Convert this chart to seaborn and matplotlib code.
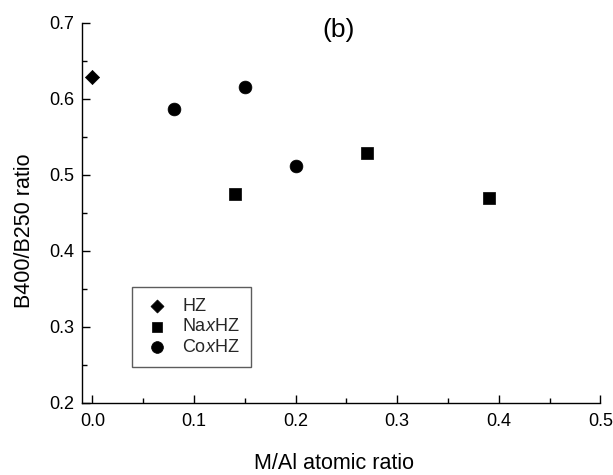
import matplotlib
matplotlib.use("Agg")
import matplotlib.pyplot as plt
import seaborn as sns
import pandas as pd
from matplotlib.ticker import MultipleLocator

sns.set_theme(style="ticks")
plt.rcParams['font.family'] = ['Liberation Sans', 'DejaVu Sans']
plt.rcParams['mathtext.fontset'] = 'custom'
plt.rcParams['mathtext.rm'] = 'Liberation Sans'
plt.rcParams['mathtext.it'] = 'Liberation Sans:italic'

hz_x = [0.0]
hz_y = [0.628]
na_x = [0.14, 0.27, 0.39]
na_y = [0.474, 0.528, 0.469]
co_x = [0.08, 0.15, 0.20]
co_y = [0.587, 0.615, 0.511]

series = [
    ("HZ", hz_x, hz_y, "D", 52),
    ("Na$x$HZ", na_x, na_y, "s", 64),
    ("Co$x$HZ", co_x, co_y, "o", 85),
]

fig = plt.figure(figsize=(6.13, 4.75), dpi=100)
x0, x1 = 82.3 / 613, 600.4 / 613
y0, y1 = 1 - 402.7 / 475, 1 - 22.7 / 475
ax = fig.add_axes([x0, y0, x1 - x0, y1 - y0])

for label, xs, ys, mk, s in series:
    df = pd.DataFrame({"x": xs, "y": ys})
    sns.scatterplot(data=df, x="x", y="y", marker=mk, s=s, color="black",
                    edgecolor="black", linewidth=0.5, ax=ax, label=label)

ax.set_xlim(-0.0099, 0.5)
ax.set_ylim(0.2, 0.7)
ax.xaxis.set_minor_locator(MultipleLocator(0.05))
ax.yaxis.set_minor_locator(MultipleLocator(0.05))
ax.set_xticks([0.0, 0.1, 0.2, 0.3, 0.4, 0.5])
ax.set_xticklabels(["0.0", "0.1", "0.2", "0.3", "0.4", "0.5"])
ax.set_yticks([0.2, 0.3, 0.4, 0.5, 0.6, 0.7])
ax.set_yticklabels(["0.2", "0.3", "0.4", "0.5", "0.6", "0.7"])
ax.tick_params(which="major", direction="in", length=5.5, width=1, labelsize=13,
               color="black", labelcolor="black")
ax.tick_params(axis="y", which="major", pad=6)
ax.tick_params(axis="x", which="major", pad=7.2)
ax.tick_params(which="minor", direction="in", length=3.6, width=1, color="black")
for side in ["top", "right"]:
    ax.spines[side].set_visible(False)
for side in ["left", "bottom"]:
    ax.spines[side].set_color("black")
    ax.spines[side].set_linewidth(1)

ax.set_xlabel("M/Al atomic ratio", fontsize=15.5, color="black")
ax.set_ylabel("B400/B250 ratio", fontsize=15.5, color="black")
ax.xaxis.set_label_coords(0.486, -0.132)
ax.yaxis.set_label_coords(-0.091, 0.452)
ax.text(0.242, 0.690, "(b)", fontsize=19, ha="center", va="center", color="black")

leg = ax.legend(loc="upper left", bbox_to_anchor=(0.0954, 0.305), frameon=True,
                fancybox=False, edgecolor="#333333", fontsize=13, handletextpad=0.6,
                borderpad=0.6, labelspacing=0.2, handlelength=1.6, markerscale=0.92,
                borderaxespad=0)
leg.get_frame().set_linewidth(1)

fig.savefig("out.png", dpi=100)
